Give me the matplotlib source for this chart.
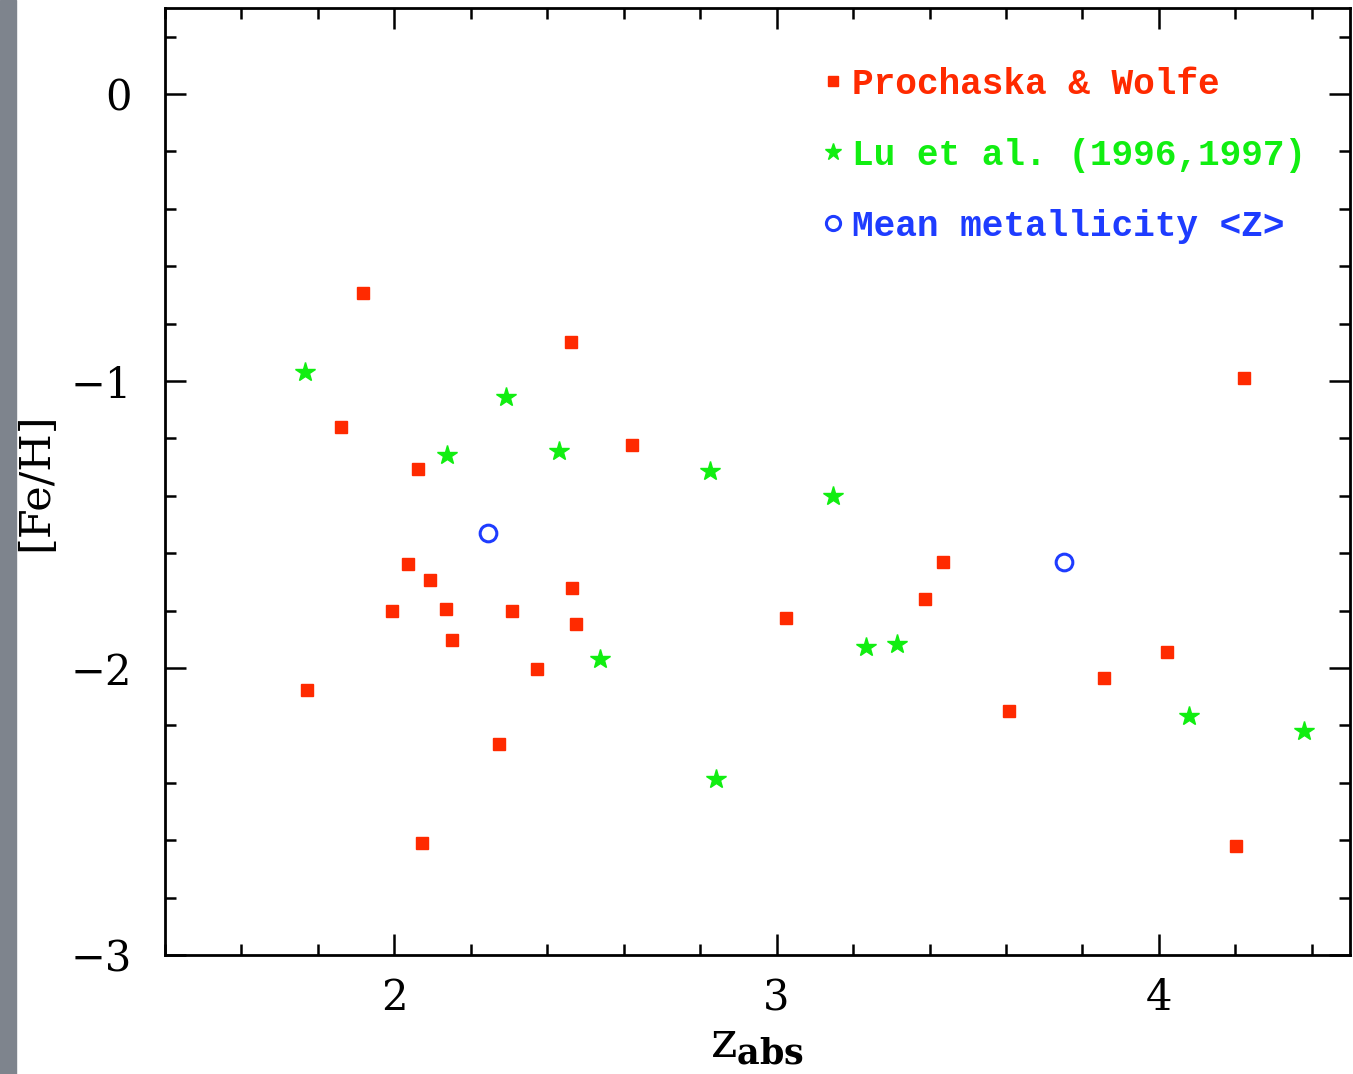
import matplotlib.pyplot as plt
import numpy as np
from matplotlib.patches import Rectangle
from matplotlib.ticker import MultipleLocator

# Prochaska & Wolfe
pw_z = [1.919, 1.861, 2.063, 2.461, 2.621, 2.037, 2.092, 1.995, 2.136, 2.152,
        2.307, 2.464, 2.474, 2.372, 1.772, 2.275, 2.073, 3.025, 3.436, 3.389,
        3.607, 3.856, 4.021, 4.223, 4.202]
pw_feh = [-0.694, -1.161, -1.308, -0.865, -1.224, -1.639, -1.692, -1.800, -1.793, -1.904,
          -1.800, -1.720, -1.845, -2.002, -2.075, -2.264, -2.609, -1.824, -1.629, -1.761,
          -2.149, -2.033, -1.943, -0.991, -2.619]

# Lu et al. (1996,1997)
lu_z = [1.767, 2.291, 2.139, 2.430, 2.826, 3.148, 2.537, 2.841, 3.235, 3.316, 4.079, 4.380]
lu_feh = [-0.970, -1.057, -1.256, -1.242, -1.315, -1.402, -1.967, -2.386, -1.925, -1.915,
          -2.166, -2.218]

# mean metallicity
mean_z = [2.246, 3.751]
mean_feh = [-1.531, -1.632]

RED = '#ff2a00'
GREEN = '#11ee11'
BLUE = '#1e3cff'

plt.rcParams['font.family'] = 'DejaVu Serif'
plt.rcParams['mathtext.fontset'] = 'dejavuserif'

fig = plt.figure(figsize=(13.53, 10.74), dpi=100)
# grey strip on the left edge
fig.patches.append(Rectangle((0, 0), 16 / 1353, 1, transform=fig.transFigure,
                             color='#7e848d', zorder=0))

ax = fig.add_axes([165 / 1353, 1 - 955 / 1074, 1185 / 1353, 947 / 1074])

ax.plot(pw_z, pw_feh, 's', color=RED, markersize=8.8, linestyle='none',
        label='Prochaska & Wolfe')
ax.plot(lu_z, lu_feh, '*', color=GREEN, markersize=15, linestyle='none',
        label='Lu et al. (1996,1997)')
ax.plot(mean_z, mean_feh, 'o', mfc='none', mec=BLUE, mew=2.2, markersize=12,
        linestyle='none', label='Mean metallicity <Z>')

ax.set_xlim(1.4, 4.5)
ax.set_ylim(-3, 0.3)
ax.xaxis.set_major_locator(MultipleLocator(1))
ax.xaxis.set_minor_locator(MultipleLocator(0.2))
ax.yaxis.set_major_locator(MultipleLocator(1))
ax.yaxis.set_minor_locator(MultipleLocator(0.2))
ax.tick_params(which='both', direction='in', top=True, right=True, width=1.8)
ax.tick_params(which='major', length=15, labelsize=30)
ax.tick_params(which='minor', length=8)
ax.tick_params(axis='x', which='major', pad=16)
ax.tick_params(axis='y', which='major', pad=24)
for s in ax.spines.values():
    s.set_linewidth(2)

ax.set_ylabel('[Fe/H]', fontsize=31, labelpad=10)
ax.set_xlabel(r'$\mathrm{z}_{\mathbf{abs}}$', fontsize=36, labelpad=0)

leg = ax.legend(loc='upper left', bbox_to_anchor=(0.539, 0.957), frameon=False,
                prop={'family': 'Liberation Mono', 'weight': 'bold', 'size': 26},
                handlelength=0.6, handletextpad=0.25, labelspacing=1.0,
                borderpad=0, markerscale=0.85)
for txt, c in zip(leg.get_texts(), [RED, GREEN, BLUE]):
    txt.set_color(c)

fig.savefig('out.png', dpi=100)
